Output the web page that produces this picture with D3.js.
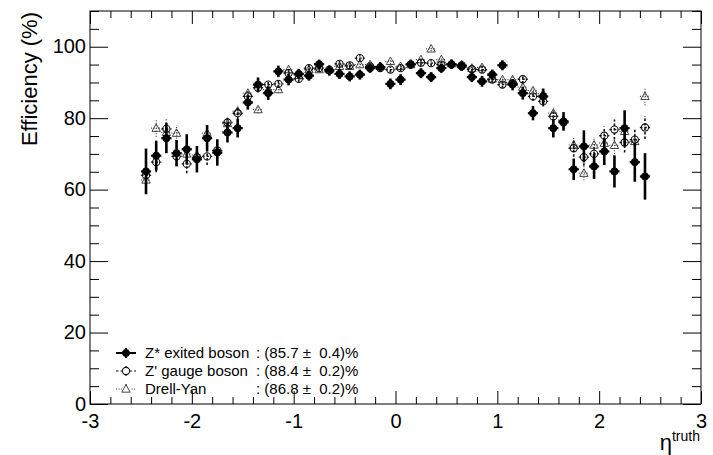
<!DOCTYPE html>
<html>
<head>
<meta charset="utf-8">
<script src="https://cdn.jsdelivr.net/npm/d3@7"></script>
<style>
  html, body { margin: 0; padding: 0; background: #fff; }
  svg { display: block; font-family: "Liberation Sans", Arial, Helvetica, sans-serif; }
</style>
</head>
<body>
<svg id="chart" width="713" height="455"></svg>
<script>
// Bin centres in eta (bin width 0.1)
const etaBins = [
  -2.45, -2.35, -2.25, -2.15, -2.05, -1.95, -1.85, -1.75, -1.65, -1.55,
  -1.45, -1.35, -1.25, -1.15, -1.05, -0.95, -0.85, -0.75, -0.65, -0.55,
  -0.45, -0.35, -0.25, -0.15, -0.05,  0.05,  0.15,  0.25,  0.35,  0.45,
   0.55,  0.65,  0.75,  0.85,  0.95,  1.05,  1.15,  1.25,  1.35,  1.45,
   1.55,  1.65,  1.75,  1.85,  1.95,  2.05,  2.15,  2.25,  2.35,  2.45
];
const binHalfWidth = 0.05;

// Z* excited boson efficiency (%) and its error
const zStarEff = [
  65.1, 69.5, 74.4, 70.2, 71.3, 68.5, 74.4, 70.4, 76.0, 77.2,
  84.4, 89.4, 87.0, 93.1, 90.8, 92.4, 91.9, 95.1, 93.3, 92.4,
  91.7, 92.2, 94.0, 94.3, 89.6, 90.8, 95.1, 92.6, 91.5, 94.0,
  95.1, 94.5, 91.5, 90.3, 92.2, 94.8, 89.4, 87.0, 81.4, 86.1,
  77.2, 79.1, 65.7, 72.1, 66.5, 70.7, 65.1, 77.2, 67.7, 63.7
];
const zStarErr = [
  6.4, 4.2, 4.2, 3.7, 4.2, 3.7, 3.7, 3.7, 2.8, 2.6,
  2.0, 2.0, 1.9, 1.6, 1.6, 1.4, 1.4, 1.3, 1.4, 1.4,
  1.4, 1.4, 1.3, 1.3, 1.5, 1.5, 1.3, 1.4, 1.4, 1.3,
  1.3, 1.3, 1.4, 1.5, 1.4, 1.4, 1.6, 1.8, 2.0, 2.2,
  2.6, 2.6, 3.0, 4.5, 3.5, 3.8, 4.5, 5.0, 5.5, 6.5
];

// Z' gauge boson efficiency (%) and its error
const zPrimeEff = [
  64.0, 67.7, 77.0, 69.3, 67.2, 69.0, 69.3, 71.0, 78.8, 81.4,
  86.1, 88.5, 89.4, 89.6, 92.6, 91.0, 94.0, 94.0, 93.6, 95.2,
  94.8, 96.8, 94.5, 94.0, 93.6, 94.0, 95.0, 95.5, 95.4, 95.0,
  95.0, 94.8, 93.7, 93.6, 90.8, 89.4, 89.7, 90.9, 86.1, 84.7,
  80.5, 78.8, 71.6, 69.1, 70.0, 75.1, 76.8, 73.2, 74.0, 77.4
];
const zPrimeErr = [
  3.0, 2.8, 2.6, 2.6, 2.6, 2.4, 2.4, 2.4, 1.9, 1.8,
  1.4, 1.3, 1.2, 1.0, 1.0, 0.9, 0.9, 0.8, 0.8, 0.8,
  0.8, 0.8, 0.8, 0.8, 0.8, 0.8, 0.8, 0.8, 0.8, 0.8,
  0.8, 0.8, 0.8, 0.9, 0.9, 1.0, 1.0, 1.2, 1.3, 1.4,
  1.8, 1.9, 2.4, 2.4, 2.6, 2.6, 2.8, 2.8, 3.0, 3.2
];

// Drell-Yan efficiency (%) and its error
const dyEff = [
  62.7, 77.2, 76.0, 75.8, 70.0, 69.7, 75.8, 71.0, 78.5, 82.0,
  87.0, 82.4, 88.0, 88.0, 93.6, 92.0, 93.6, 93.6, 93.6, 94.5,
  94.5, 95.0, 95.0, 94.5, 95.9, 94.5, 95.0, 96.4, 99.4, 96.4,
  95.3, 95.0, 94.0, 94.2, 91.0, 90.8, 90.8, 88.7, 87.7, 86.8,
  81.4, 79.5, 72.5, 64.6, 72.5, 73.0, 72.4, 76.3, 73.5, 86.1
];
const dyErr = [
  2.5, 2.4, 2.2, 2.2, 2.2, 2.0, 2.0, 2.0, 1.6, 1.5,
  1.2, 1.1, 1.0, 0.9, 0.8, 0.8, 0.7, 0.7, 0.7, 0.7,
  0.7, 0.7, 0.7, 0.7, 0.7, 0.7, 0.7, 0.7, 0.7, 0.7,
  0.7, 0.7, 0.7, 0.7, 0.8, 0.8, 0.9, 1.0, 1.1, 1.2,
  1.5, 1.6, 2.0, 2.0, 2.2, 2.2, 2.4, 2.4, 2.5, 2.5
];

// Axis ticks and legend text
const xMajorTicks = [-3, -2, -1, 0, 1, 2, 3];
const yMajorTicks = [0, 20, 40, 60, 80, 100];
const legendNames = ["Z* exited boson", "Z' gauge boson", "Drell-Yan"];
const legendValues = [": (85.7 \u00b1  0.4)%", ": (88.4 \u00b1  0.2)%", ": (86.8 \u00b1  0.2)%"];

const W = 713, H = 455;
const margin = { left: 90, right: 12, top: 11, bottom: 51 };
const x0 = margin.left, x1 = W - margin.right;
const y0 = H - margin.bottom, y1 = margin.top;

const x = d3.scaleLinear().domain([-3, 3]).range([x0, x1]);
const y = d3.scaleLinear().domain([0, 110]).range([y0, y1]);

const svg = d3.select("#chart");

// Frame box
svg.append("rect")
  .attr("x", x0).attr("y", y1)
  .attr("width", x1 - x0).attr("height", y0 - y1)
  .attr("fill", "none").attr("stroke", "#000").attr("stroke-width", 1);

// Ticks on all four sides of the frame (major + minor)
const xMinor = d3.range(-3, 3.0001, 0.2).filter(v => Math.abs(v - Math.round(v)) > 1e-6);
const yMinor = d3.range(0, 110.0001, 5).filter(v => v % 20 !== 0);
const xMajLen = 13, xMinLen = 7, yMajLen = 18, yMinLen = 9;

function tickGroup(axis, tx, ty) {
  const g = svg.append("g").attr("transform", `translate(${tx},${ty})`).call(axis);
  g.select(".domain").remove();
  return g;
}

const gB = tickGroup(d3.axisBottom(x).tickValues(xMajorTicks).tickSize(-xMajLen).tickFormat(d => d), 0, y0);
gB.selectAll("text").attr("font-size", 20).attr("font-family", "Liberation Sans, Arial, sans-serif")
  .attr("fill", "#000").attr("y", 0).attr("dy", "24px");
tickGroup(d3.axisBottom(x).tickValues(xMinor).tickSize(-xMinLen).tickFormat(""), 0, y0);
tickGroup(d3.axisTop(x).tickValues(xMajorTicks).tickSize(-xMajLen).tickFormat(""), 0, y1);
tickGroup(d3.axisTop(x).tickValues(xMinor).tickSize(-xMinLen).tickFormat(""), 0, y1);

const gL = tickGroup(d3.axisLeft(y).tickValues(yMajorTicks).tickSize(-yMajLen).tickFormat(d => d), x0, 0);
gL.selectAll("text").attr("font-size", 20).attr("font-family", "Liberation Sans, Arial, sans-serif")
  .attr("fill", "#000").attr("x", -4).attr("dy", "0.3em");
tickGroup(d3.axisLeft(y).tickValues(yMinor).tickSize(-yMinLen).tickFormat(""), x0, 0);
tickGroup(d3.axisRight(y).tickValues(yMajorTicks).tickSize(-yMajLen).tickFormat(""), x1, 0);
tickGroup(d3.axisRight(y).tickValues(yMinor).tickSize(-yMinLen).tickFormat(""), x1, 0);

svg.selectAll(".tick line").attr("stroke", "#000").attr("stroke-width", 1);

// Axis titles
svg.append("text")
  .attr("transform", `translate(37,${y1 + 1}) rotate(-90)`)
  .attr("text-anchor", "end")
  .attr("font-size", 22)
  .text("Efficiency (%)");

const xt = svg.append("text")
  .attr("x", x1 - 1).attr("y", 450)
  .attr("text-anchor", "end")
  .attr("font-size", 22);
xt.append("tspan").text("\u03b7");
xt.append("tspan").attr("font-size", 14).attr("dy", -9).text("truth");

// Series drawing
function rows(vals, errs) {
  return etaBins.map((e, i) => ({ eta: e, v: vals[i], err: errs[i] }));
}

function drawErrors(g, data, opts) {
  g.selectAll(null).data(data).enter().append("line")
    .attr("x1", d => x(d.eta)).attr("x2", d => x(d.eta))
    .attr("y1", d => y(d.v - d.err)).attr("y2", d => y(d.v + d.err))
    .attr("stroke", opts.color).attr("stroke-width", opts.vw)
    .attr("stroke-dasharray", opts.dash);
  g.selectAll(null).data(data).enter().append("line")
    .attr("x1", d => x(d.eta - binHalfWidth)).attr("x2", d => x(d.eta + binHalfWidth))
    .attr("y1", d => y(d.v)).attr("y2", d => y(d.v))
    .attr("stroke", opts.color).attr("stroke-width", opts.hw)
    .attr("stroke-dasharray", opts.dash);
}

const triPath = r => `M0,${-r}L${r * 0.95},${r * 0.72}L${-r * 0.95},${r * 0.72}Z`;

function drawMarker(sel, kind) {
  if (kind === "filled") {
    sel.append("circle").attr("r", 3.6).attr("fill", "#000").attr("stroke", "#000").attr("stroke-width", 0.8);
  } else if (kind === "open") {
    sel.append("circle").attr("r", 3.6).attr("fill", "none").attr("stroke", "#111").attr("stroke-width", 1.1);
  } else {
    sel.append("path").attr("d", triPath(4.4)).attr("fill", "none").attr("stroke", "#444").attr("stroke-width", 1.0);
  }
}

const styles = {
  zStar: { color: "#000", vw: 2.6, hw: 2.2, dash: null, marker: "filled" },
  zPrime: { color: "#111", vw: 1.6, hw: 1.4, dash: "2.5,2", marker: "open" },
  dy: { color: "#444", vw: 1.2, hw: 1.2, dash: "1,1.6", marker: "tri" }
};

const plot = svg.append("g");
const seriesList = [
  { data: rows(dyEff, dyErr), st: styles.dy },
  { data: rows(zPrimeEff, zPrimeErr), st: styles.zPrime },
  { data: rows(zStarEff, zStarErr), st: styles.zStar }
];
seriesList.forEach(s => {
  const g = plot.append("g");
  drawErrors(g, s.data, s.st);
  const m = g.selectAll(null).data(s.data).enter().append("g")
    .attr("transform", d => `translate(${x(d.eta)},${y(d.v)})`);
  drawMarker(m, s.st.marker);
});

// Legend
const legend = svg.append("g");
const legendStyles = [styles.zStar, styles.zPrime, styles.dy];
const legendY = [353, 371, 389];
legendNames.forEach((name, i) => {
  const st = legendStyles[i];
  const cy = legendY[i];
  const row = legend.append("g");
  row.append("line").attr("x1", 116).attr("x2", 136).attr("y1", cy).attr("y2", cy)
    .attr("stroke", st.color).attr("stroke-width", i === 0 ? 2 : 1.2).attr("stroke-dasharray", st.dash);
  row.append("line").attr("x1", 126).attr("x2", 126).attr("y1", cy - 5).attr("y2", cy + 5)
    .attr("stroke", st.color).attr("stroke-width", i === 0 ? 2 : 1.2).attr("stroke-dasharray", st.dash);
  const mk = row.append("g").attr("transform", `translate(126,${cy})`);
  if (st.marker !== "filled") mk.append("rect").attr("x", -4).attr("y", -4).attr("width", 8).attr("height", 8).attr("fill", "#fff");
  drawMarker(mk, st.marker);
  row.append("text").attr("x", 145).attr("y", cy + 5).attr("font-size", 15).text(name);
  row.append("text").attr("x", 256).attr("y", cy + 5).attr("font-size", 15)
    .style("white-space", "pre").text(legendValues[i]);
});
</script>
</body>
</html>
